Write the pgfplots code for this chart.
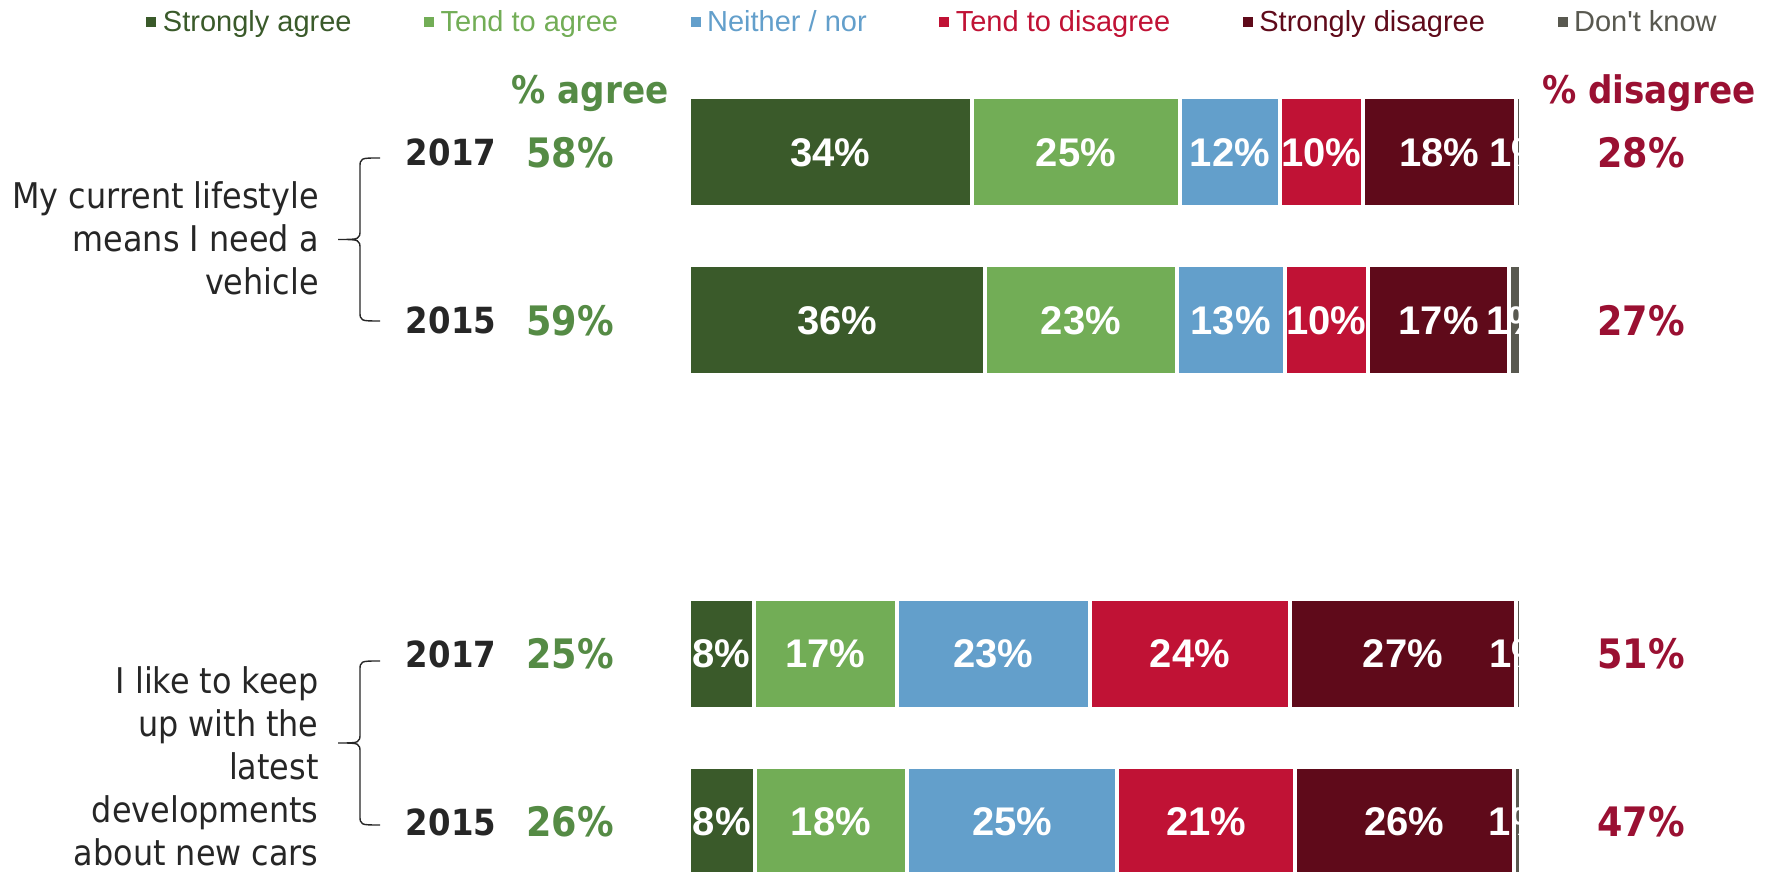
\documentclass[border=0pt]{standalone}
\usepackage{fontspec}
\setmainfont{Liberation Sans}
\newfontfamily\tah{DejaVu Sans Condensed}
\usepackage{pgfplots}
\pgfplotsset{compat=1.18}
\usepackage{pgfplotstable}
\definecolor{sa}{HTML}{3A5A2A}
\definecolor{ta}{HTML}{72AD56}
\definecolor{nn}{HTML}{639FCB}
\definecolor{td}{HTML}{C01235}
\definecolor{sd}{HTML}{5F0A1A}
\definecolor{dk}{HTML}{595950}
\definecolor{agr}{HTML}{558B45}
\definecolor{dis}{HTML}{9A1032}
\definecolor{txt}{HTML}{262626}

% y = row centre (px from bottom of picture)
\pgfplotstableread{
y     sa   ta   nn   td   sd   dk
719.5 34   25   12   10   18.4 0.6
551.5 35.6 23   13   10   17   1.4
218   7.8  17.2 23.2 24   27.2 0.6
50    7.9  18.3 25.3 21.3 26.4 0.8
}\data

\begin{document}
\begin{tikzpicture}
\useasboundingbox (0,0) rectangle (883.5pt,436pt);
\begin{axis}[
  at={(0pt,0pt)}, anchor=south west,
  scale only axis, width=883.5pt, height=436pt,
  xmin=-82.8125, xmax=129.567, ymin=0, ymax=872,
  hide axis,
  xbar stacked, bar width=55pt,
  /pgf/number format/assume math mode=true,
  nodes near coords={\pgfmathprintnumber[fixed,precision=0,assume math mode=true]{\pgfplotspointmeta}\%},
  nodes near coords style={white, font=\fontsize{20}{20}\selectfont\bfseries},
  legend columns=6,
  legend style={at={(0.0829,0.9742)}, anchor=west, draw=none, fill=none,
    inner sep=0pt, outer sep=0pt, font=\fontsize{14.5}{14.5}\selectfont,
    nodes={inner sep=0pt},
    /tikz/every even column/.append style={column sep=36.3pt},
    /tikz/every odd column/.append style={column sep=3.25pt}},
  legend image code/.code={\fill[#1,draw=none] (0pt,-2.5pt) rectangle (5pt,2.5pt);},
]
\addplot[fill=sa, draw=white, line width=2pt] table[x=sa,y=y]{\data};
\addplot[fill=ta, draw=white, line width=2pt] table[x=ta,y=y]{\data};
\addplot[fill=nn, draw=white, line width=2pt] table[x=nn,y=y]{\data};
\addplot[fill=td, draw=white, line width=2pt] table[x=td,y=y]{\data};
\addplot[fill=sd, draw=white, line width=2pt] table[x=sd,y=y]{\data};
\addplot[fill=dk, draw=white, line width=2pt] table[x=dk,y=y]{\data};
\legend{\textcolor{sa}{Strongly agree},\textcolor{ta}{Tend to agree},\textcolor{nn}{Neither / nor},\textcolor{td}{Tend to disagree},\textcolor{sd}{Strongly disagree},\textcolor{dk}{Don\textquotesingle t know}}
\end{axis}

% headers
\node[anchor=base, agr, inner sep=0pt, font=\tah\bfseries\fontsize{19}{19}\selectfont] at (295pt,384pt) {\% agree};
\node[anchor=base, dis, inner sep=0pt, font=\tah\bfseries\fontsize{19}{19}\selectfont] at (824.5pt,384pt) {\% disagree};

% years and net percentages
\foreach \yy/\yr/\ag/\di in {359.75/2017/58/28, 275.75/2015/59/27, 109/2017/25/51, 25/2015/26/47}{
  \node[txt, inner sep=0pt, font=\tah\bfseries\fontsize{18}{18}\selectfont] at (225.5pt,\yy pt) {\yr};
  \node[agr, inner sep=0pt, font=\tah\bfseries\fontsize{20.3}{20.3}\selectfont] at (285pt,\yy pt) {\ag\%};
  \node[dis, inner sep=0pt, font=\tah\bfseries\fontsize{20.3}{20.3}\selectfont] at (820.5pt,\yy pt) {\di\%};
}

% statements
\node[anchor=east, align=right, txt, inner sep=0pt, font=\tah\fontsize{17.7}{21.5}\selectfont] at (159.5pt,317pt) {My current lifestyle\\means I need a\\vehicle};
\node[anchor=east, align=right, txt, inner sep=0pt, font=\tah\fontsize{17.7}{21.5}\selectfont] at (159.5pt,53pt) {I like to keep\\up with the\\latest\\developments\\about new cars};

% braces
\draw[line width=0.7pt, txt] (190pt,357pt) .. controls (180pt,357pt) .. (180pt,352pt) -- (180pt,321.25pt) .. controls (180pt,316.25pt) .. (169pt,316.25pt) .. controls (180pt,316.25pt) .. (180pt,311.25pt) -- (180pt,280.5pt) .. controls (180pt,275.5pt) .. (190pt,275.5pt);
\draw[line width=0.7pt, txt] (190pt,105.5pt) .. controls (180pt,105.5pt) .. (180pt,100.5pt) -- (180pt,69.5pt) .. controls (180pt,64.5pt) .. (169pt,64.5pt) .. controls (180pt,64.5pt) .. (180pt,59.5pt) -- (180pt,28.5pt) .. controls (180pt,23.5pt) .. (190pt,23.5pt);
\end{tikzpicture}
\end{document}
